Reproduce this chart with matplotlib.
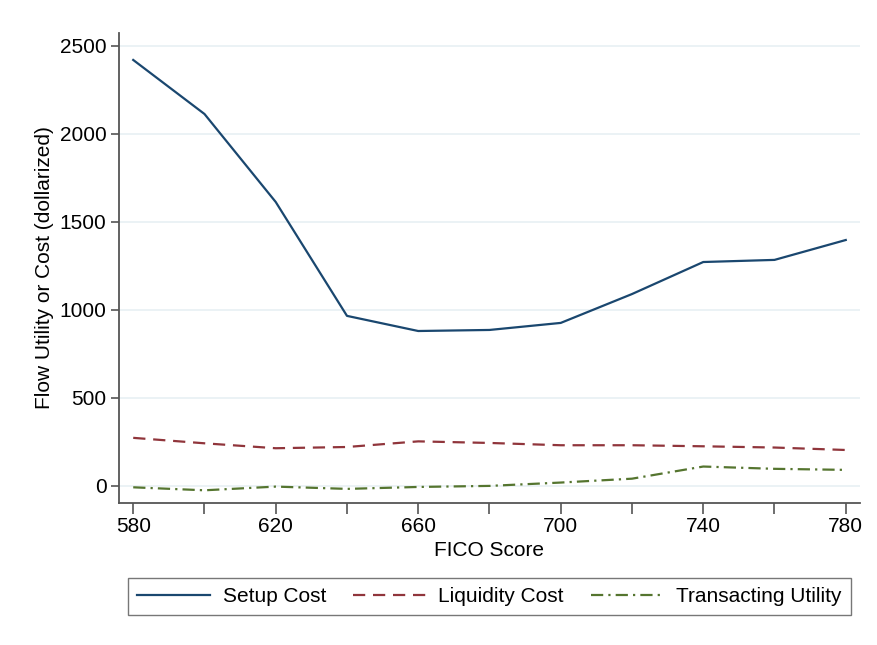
import matplotlib.pyplot as plt
from matplotlib.ticker import MultipleLocator

# Data
fico = [580, 600, 620, 640, 660, 680, 700, 720, 740, 760, 780]
setup_cost = [2420, 2113, 1613, 966, 880, 886, 926, 1090, 1272, 1284, 1397]
liquidity_cost = [273, 242, 214, 221, 253, 244, 231, 231, 225, 218, 204]
transacting_utility = [-8, -25, -4, -17, -6, 0, 19, 41, 110, 97, 91]

plt.rcParams['font.family'] = ['Liberation Sans', 'DejaVu Sans']

fig = plt.figure(figsize=(8.78, 6.45), dpi=100)
ax = fig.add_axes([0.1355, 0.2202, 0.844, 0.7286])

ax.plot(fico, setup_cost, color='#1a476f', lw=1.6, label='Setup Cost')
ax.plot(fico, liquidity_cost, color='#90353b', lw=1.6, ls=(0, (5.5, 3.5)), label='Liquidity Cost')
ax.plot(fico, transacting_utility, color='#55752f', lw=1.6, ls=(0, (5.5, 2.3, 1, 2.3)), label='Transacting Utility')

# Axes formatting
ax.set_xlim(576, 784)
ax.set_ylim(-97, 2573)
ax.set_xticks(range(580, 781, 40))
ax.xaxis.set_minor_locator(MultipleLocator(20))
ax.set_yticks(range(0, 2501, 500))
ax.grid(axis='y', color='#e8f0f3', lw=1.2)
ax.set_axisbelow(True)
for side in ['top', 'right']:
    ax.spines[side].set_visible(False)
for side in ['left', 'bottom']:
    ax.spines[side].set_color('#555555')
    ax.spines[side].set_linewidth(1.3)
ax.tick_params(axis='x', which='both', length=8, width=1.2, color='#555555', labelsize=15, pad=2)
ax.tick_params(axis='y', length=6, width=1.2, color='#555555', labelsize=15, pad=3)
ax.set_xlabel('FICO Score', fontsize=15, labelpad=4)
ax.set_ylabel('Flow Utility or Cost (dollarized)', fontsize=15, labelpad=4)

fig.legend(loc='center', bbox_to_anchor=(0.5575, 0.0752), ncol=3, fontsize=15,
           frameon=True, fancybox=False, edgecolor='#555555', handlelength=3.5,
           columnspacing=1.3, borderpad=0.45, handletextpad=0.6)

fig.savefig('out.png', dpi=100)
